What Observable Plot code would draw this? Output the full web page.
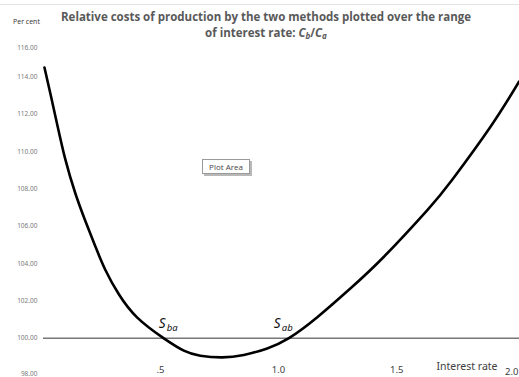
<!DOCTYPE html>
<html><head><meta charset="utf-8">
<script src="https://cdn.jsdelivr.net/npm/d3@7"></script>
<script src="https://cdn.jsdelivr.net/npm/@observablehq/plot@0.6"></script>
<style>
body{margin:0;background:#fff;}
#wrap{position:relative;width:519px;height:377px;overflow:hidden;font-family:"Open Sans",sans-serif;background:#fff;}
#wrap svg{position:absolute;left:0;top:0;}
#topline{position:absolute;left:0;top:4px;width:519px;height:1px;background:#e3e3e3;}
.title{position:absolute;left:0;width:532px;text-align:center;color:#595959;font-weight:700;font-size:11.5px;white-space:nowrap;line-height:16px;}
.title i{font-style:italic;}
.title sub{font-size:0.7em;vertical-align:-0.25em;}
#percent{position:absolute;left:13px;top:17px;font-size:7px;color:#333;white-space:nowrap;}
#tip{position:absolute;left:202px;top:159px;width:46px;height:13px;border:1px solid #9a9a9a;box-shadow:2px 2px 0 #b8b8b8;background:#fff;font-size:8px;color:#444;line-height:13px;text-align:center;white-space:nowrap;}
</style>
</head><body>
<div id="wrap">
<div id="topline"></div>
<div class="title" style="top:9px">Relative costs of production by the two methods plotted over the range</div>
<div class="title" style="top:25px">of interest rate: <i>C<sub>b</sub></i>/<i>C<sub>a</sub></i></div>
<div id="percent">Per cent</div>
</div>
<script>
// Interest rate (x) and relative cost Cb/Ca in per cent (y)
const rates = [0.009, 0.035, 0.063, 0.098, 0.140, 0.183, 0.225, 0.267, 0.324, 0.402, 0.513, 0.599, 0.669, 0.761, 0.853, 0.952, 1.044, 1.164, 1.305, 1.446, 1.63, 1.736, 1.898, 2.018];
const costs = [114.5, 113.05, 111.45, 109.55, 107.75, 106.25, 104.9, 103.65, 102.35, 101.1, 100.0, 99.33, 99.06, 98.97, 99.1, 99.45, 100.0, 101.12, 102.67, 104.36, 106.86, 108.5, 111.34, 113.74];
const yTicks = [100, 102, 104, 106, 108, 110, 112, 114];
const yBottomTick = [98];
const yTopTick = [116];
const xTicks = [0.5, 1.0, 1.5];
const xTickLabels = [".5", "1.0", "1.5"];
const xLastTick = [2.0];
const switchLabels = ["ba", "ab"];
const switchRates = [0.493, 0.98];
const switchCosts = [100.78, 100.78];

const curve = rates.map((r, i) => ({r, c: costs[i]}));
const switches = switchLabels.map((s, i) => ({s, r: switchRates[i], c: switchCosts[i]}));
const fmt = d3.format(".2f");
const yAxisStyle = {tickSize: 0, tickPadding: 6, tickFormat: fmt, fontSize: 6.5, fill: "#7a7a7a", label: null};
const xAxisStyle = {anchor: "bottom", tickSize: 0, tickPadding: 0, fontSize: 9.5, fill: "#404040", label: null};

const chart = Plot.plot({
  width: 519, height: 377,
  marginLeft: 43, marginRight: 0, marginTop: 39, marginBottom: 2,
  x: {domain: [0.005, 2.02]},
  y: {domain: [98, 116]},
  style: {background: "transparent", overflow: "visible"},
  marks: [
    Plot.ruleY([100], {stroke: "#333", strokeWidth: 1}),
    Plot.axisY(yTicks, yAxisStyle),
    Plot.axisY(yBottomTick, {...yAxisStyle, dy: -2}),
    Plot.axisY(yTopTick, {...yAxisStyle, dy: 8}),
    Plot.axisX(xTicks, {...xAxisStyle, dy: -9, tickFormat: d => xTickLabels[xTicks.indexOf(d)]}),
    Plot.axisX(xLastTick, {...xAxisStyle, dy: -7, dx: -3, tickFormat: d3.format(".1f")}),
    Plot.text(["Interest rate"], {frameAnchor: "bottom-right", textAnchor: "end", lineAnchor: "middle", dx: -22, dy: -9, fontSize: 10.5, fill: "#404040"}),
    Plot.line(curve, {x: "r", y: "c", curve: "natural", stroke: "#000", strokeWidth: 2.6}),
    Plot.text(switches, {x: "r", y: "c", text: () => "S", textAnchor: "start", lineAnchor: "middle", fontSize: 13.5, fontStyle: "italic", fill: "#111"}),
    Plot.text(switches, {x: "r", y: "c", text: "s", textAnchor: "start", lineAnchor: "middle", dx: 8, dy: 4, fontSize: 9.5, fontStyle: "italic", fill: "#111"})
  ]
});
const wrap = document.getElementById("wrap");
wrap.insertBefore(chart, wrap.firstChild);
const tip = document.createElement("div");
tip.id = "tip"; tip.textContent = "Plot Area";
wrap.appendChild(tip);
</script>
</body></html>
